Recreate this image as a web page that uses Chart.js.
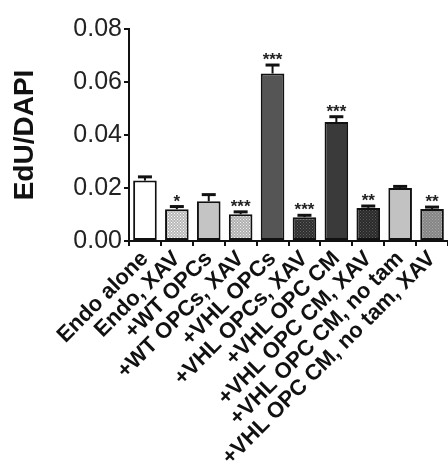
<!DOCTYPE html>
<html lang="en">
<head>
    <meta charset="UTF-8">
    <title>EdU/DAPI</title>
    <script src="https://cdn.jsdelivr.net/npm/chart.js"></script>
    <style>
        body, html {
            margin: 0;
            padding: 0;
            background: white;
        }
        .chart-box {
            width: 448px;
            height: 473px;
        }
    </style>
</head>
<body>
<div class="chart-box">
    <canvas id="edu" width="448" height="473"></canvas>
</div>

<script>
    // data
    const groups = ['Endo alone', 'Endo, XAV', '+WT OPCs', '+WT OPCs, XAV', '+VHL OPCs',
        '+VHL OPCs, XAV', '+VHL OPC CM', '+VHL OPC CM, XAV', '+VHL OPC CM, no tam',
        '+VHL OPC CM, no tam, XAV'];
    const means = [0.0228, 0.0120, 0.0150, 0.0101, 0.0632, 0.0090, 0.0449, 0.0125, 0.0200, 0.0121];
    const sem = [0.0014, 0.0010, 0.0025, 0.0009, 0.0032, 0.0007, 0.0020, 0.0007, 0.0006, 0.0007];
    const stars = ['', '*', '', '***', '***', '***', '***', '**', '', '**'];
    const yTicks = [0, 0.02, 0.04, 0.06, 0.08];

    // fill patterns like the Prism bars
    function makePattern(bg, dot, step) {
        const c = document.createElement('canvas');
        c.width = step; c.height = step;
        const g = c.getContext('2d');
        g.fillStyle = bg;
        g.fillRect(0, 0, step, step);
        g.fillStyle = dot;
        g.fillRect(0, 0, 1, 1);
        g.fillRect(step / 2, step / 2, 1, 1);
        return document.getElementById('edu').getContext('2d').createPattern(c, 'repeat');
    }

    const fills = [
        '#ffffff',
        makePattern('#b8b8b8', '#ffffff', 3),
        '#c4c4c4',
        makePattern('#b0b0b0', '#f0f0f0', 3),
        '#555555',
        makePattern('#2e2e2e', '#666666', 3),
        '#3a3a3a',
        makePattern('#2a2a2a', '#5a5a5a', 3),
        '#c2c2c2',
        makePattern('#858585', '#aaaaaa', 3)
    ];

    // error bars (upper only) + significance stars
    const errorBars = {
        id: 'errorBars',
        afterDatasetsDraw(chart) {
            const ctx = chart.ctx;
            const y = chart.scales.y;
            const meta = chart.getDatasetMeta(0);
            ctx.save();
            ctx.strokeStyle = '#111';
            ctx.fillStyle = '#222';
            meta.data.forEach((bar, i) => {
                const top = y.getPixelForValue(means[i] + sem[i]);
                ctx.lineWidth = 2;
                ctx.beginPath();
                ctx.moveTo(bar.x, bar.y);
                ctx.lineTo(bar.x, top);
                ctx.stroke();
                ctx.lineWidth = 3;
                ctx.beginPath();
                ctx.moveTo(bar.x - 7, top);
                ctx.lineTo(bar.x + 7, top);
                ctx.stroke();
                if (stars[i]) {
                    ctx.font = 'bold 17px "Liberation Sans", Arial, sans-serif';
                    ctx.textAlign = 'center';
                    ctx.textBaseline = 'bottom';
                    ctx.fillText(stars[i], bar.x, top + 4);
                }
            });
            ctx.restore();
        }
    };

    const ctx = document.getElementById('edu').getContext('2d');
    const eduChart = new Chart(ctx, {
        type: 'bar',
        data: {
            labels: groups,
            datasets: [{
                data: means,
                backgroundColor: fills,
                borderColor: '#111',
                borderWidth: 2,
                borderSkipped: false,
                barPercentage: 0.74,
                categoryPercentage: 1
            }]
        },
        options: {
            responsive: false,
            animation: false,
            layout: {
                padding: { top: 29, right: 0, left: 0, bottom: 0 }
            },
            scales: {
                x: {
                    grid: {
                        display: true,
                        drawOnChartArea: false,
                        drawTicks: true,
                        tickLength: 5,
                        color: '#111',
                        lineWidth: 2
                    },
                    border: { color: '#111', width: 2 },
                    ticks: {
                        color: '#111',
                        autoSkip: false,
                        minRotation: 45,
                        maxRotation: 45,
                        padding: 0,
                        font: { family: '"Liberation Sans", Arial', size: 22, weight: 'bold' }
                    },
                    afterFit(scale) {
                        scale.height = 232;
                        scale.paddingLeft = 0;
                        scale.paddingRight = 0;
                    }
                },
                y: {
                    min: 0,
                    max: 0.08,
                    afterBuildTicks(scale) {
                        scale.ticks = yTicks.map(v => ({ value: v }));
                    },
                    grid: {
                        display: true,
                        drawOnChartArea: false,
                        drawTicks: true,
                        tickLength: 5,
                        color: '#111',
                        lineWidth: 2
                    },
                    border: { color: '#111', width: 2 },
                    ticks: {
                        color: '#222',
                        padding: 2,
                        callback: v => v.toFixed(2),
                        font: { family: '"Liberation Sans", Arial', size: 25 }
                    },
                    title: {
                        display: true,
                        text: 'EdU/DAPI',
                        color: '#111',
                        padding: { top: 8, bottom: 0 },
                        font: { family: '"Liberation Sans", Arial', size: 28, weight: 'bold' }
                    },
                    afterFit(scale) {
                        scale.width = 129;
                    }
                }
            },
            plugins: {
                legend: { display: false },
                tooltip: { enabled: false }
            }
        },
        plugins: [errorBars]
    });
</script>
</body>
</html>
